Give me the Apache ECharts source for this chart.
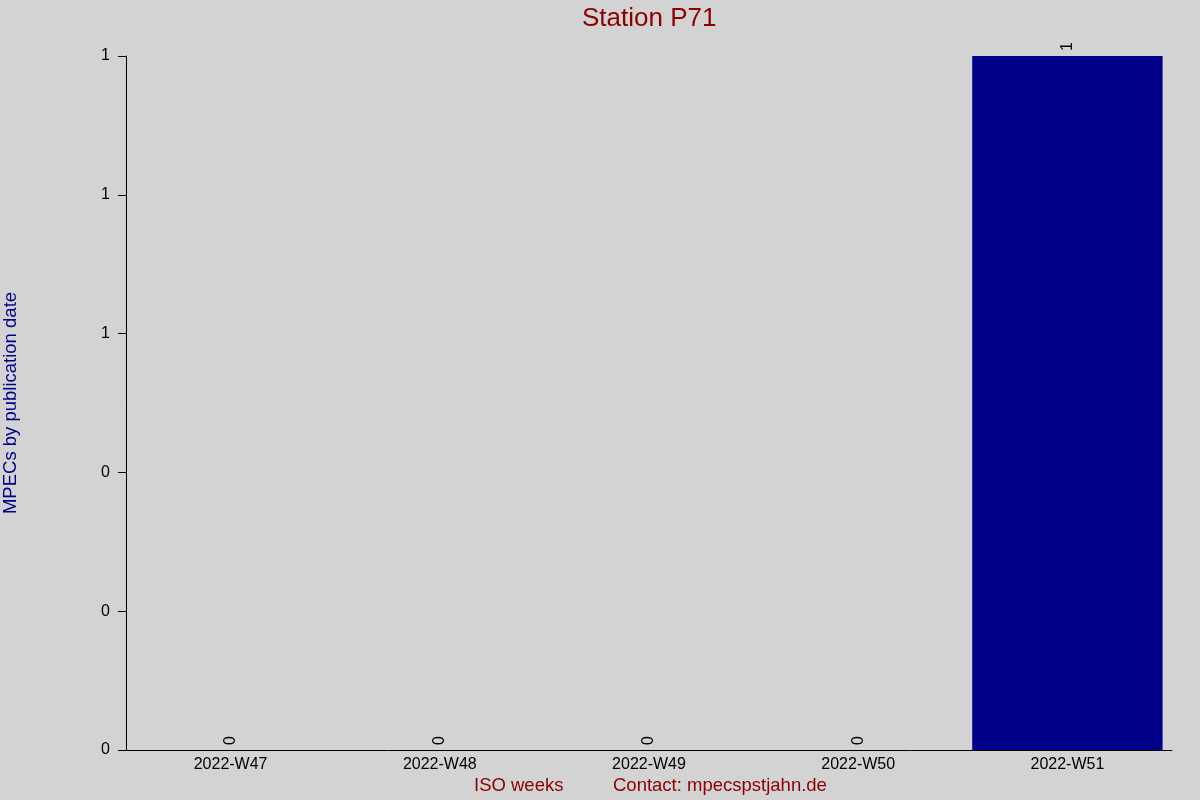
<!DOCTYPE html>
<html>
<head>
<meta charset="utf-8">
<script src="https://cdn.jsdelivr.net/npm/echarts@6/dist/echarts.min.js"></script>
<style>
html,body{margin:0;padding:0;background:#d3d3d3;}
#main{width:1200px;height:800px;}
</style>
</head>
<body>
<div id="main"></div>
<script>
// data
var weeks = ['2022-W47', '2022-W48', '2022-W49', '2022-W50', '2022-W51'];
var mpecCounts = [0, 0, 0, 0, 1];

var myChart = echarts.init(document.getElementById('main'));
var option = {
	backgroundColor: '#d3d3d3',
	textStyle: { fontFamily: 'Liberation Sans' },
	animation: false,
	title: {
		text: 'Station P71',
		left: 582,
		top: 6,
		padding: 0,
		textStyle: { color: '#8b0000', fontSize: 26, fontWeight: 'normal', fontFamily: 'Liberation Sans' }
	},
	grid: { left: 126, right: 28, top: 56, bottom: 50, containLabel: false, outerBoundsMode: 'none' },
	xAxis: {
		type: 'category',
		data: weeks,
		axisLine: { show: true, lineStyle: { color: '#000', width: 1 } },
		axisTick: { show: false },
		axisLabel: { color: '#000', fontSize: 16, margin: 7 },
		splitLine: { show: false }
	},
	yAxis: {
		type: 'value',
		min: 0,
		max: 1,
		interval: 0.2,
		name: 'MPECs by publication date',
		nameLocation: 'middle',
		nameGap: 106,
		nameTextStyle: { color: '#00008b', fontSize: 18.5 },
		axisLine: { show: true, lineStyle: { color: '#000', width: 1 } },
		axisTick: { show: true, length: 8, lineStyle: { color: '#000' } },
		axisLabel: {
			color: '#000', fontSize: 16, margin: 16,
			formatter: function (v) { return Math.round(v); }
		},
		splitLine: { show: false }
	},
	series: [
		{
			name: 'MPECs',
			type: 'bar',
			data: mpecCounts,
			barCategoryGap: '9%',
			itemStyle: { color: '#00008b' },
			label: {
				show: true,
				position: 'top',
				rotate: 90,
				align: 'left',
				verticalAlign: 'middle',
				distance: 5,
				color: '#000',
				fontSize: 16
			}
		}
	],
	graphic: [
		{
			type: 'text', left: 474, top: 776,
			style: { text: 'ISO weeks', fill: '#8b0000', fontSize: 18.5, fontFamily: 'Liberation Sans' }
		},
		{
			type: 'text', left: 613, top: 776,
			style: { text: 'Contact: mpecspstjahn.de', fill: '#8b0000', fontSize: 18.5, fontFamily: 'Liberation Sans' }
		}
	]
};
myChart.setOption(option);
</script>
</body>
</html>
